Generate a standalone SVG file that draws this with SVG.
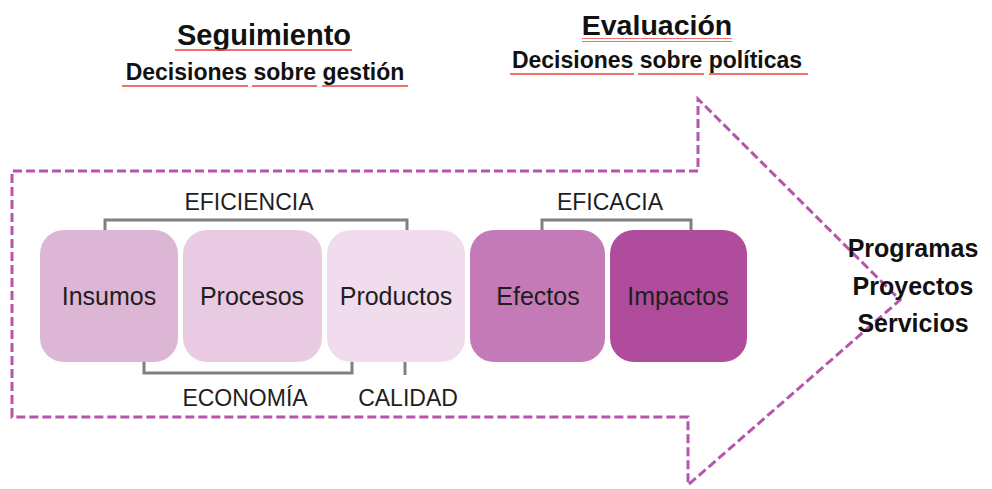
<svg xmlns="http://www.w3.org/2000/svg" width="992" height="489" viewBox="0 0 992 489">
<defs>
<style>
.t{font-family:"Liberation Sans",Arial,sans-serif;fill:#111;text-anchor:middle}
.b{font-weight:bold}
.lbl{font-size:25px;fill:#1e1e1e}
.cap{font-size:23px;fill:#1e1e1e}
.br{fill:none;stroke:#808080;stroke-width:3}
</style>
<pattern id="wave" width="4" height="4" patternUnits="userSpaceOnUse">
<path d="M0,3 L1,1 L2,3 L3,1 L4,3" fill="none" stroke="#ec4a46" stroke-width="1"/>
</pattern>
</defs>
<rect width="992" height="489" fill="#fff"/>

<g id="titles">
<text class="t b" x="264" y="45" font-size="29">Seguimiento</text>
<text class="t b" x="265" y="80" font-size="23">Decisiones sobre gestión</text>
<text class="t b" x="657" y="35" font-size="28.5">Evaluación</text>
<text class="t b" x="657" y="68" font-size="23">Decisiones sobre políticas</text>
<rect x="175" y="48" width="177" height="4" fill="url(#wave)"/>
<rect x="122" y="84" width="126" height="4" fill="url(#wave)"/>
<rect x="252" y="84" width="65" height="4" fill="url(#wave)"/>
<rect x="322" y="84" width="86" height="4" fill="url(#wave)"/>
<rect x="582" y="38" width="150" height="4" fill="url(#wave)"/>
<rect x="510" y="73" width="124" height="4" fill="url(#wave)"/>
<rect x="638" y="73" width="66" height="4" fill="url(#wave)"/>
<rect x="709" y="73" width="99" height="4" fill="url(#wave)"/>
</g>

<g id="arrow">
<path d="M12,417 L12,171 L698,171 L698,99 L900,300 L688,485 L688,417 Z" fill="none" stroke="#b755ae" stroke-width="3" stroke-dasharray="9,4"/>
</g>

<g id="connectors">
<path class="br" d="M105,230 V220 H407 V230"/>
<path class="br" d="M542,230 V220 H691 V230"/>
<path class="br" d="M144,362 V373 H352 V362"/>
<path class="br" d="M405,362 V375"/>
</g>

<g id="insumos">
<rect x="40" y="230" width="138" height="132" rx="24" fill="#ddb5d5"/>
<text class="t lbl" x="109" y="305">Insumos</text>
</g>
<g id="procesos">
<rect x="183" y="230" width="139" height="132" rx="24" fill="#e8cae2"/>
<text class="t lbl" x="252" y="305">Procesos</text>
</g>
<g id="productos">
<rect x="327" y="230" width="138" height="132" rx="24" fill="#f0dcec"/>
<text class="t lbl" x="396" y="305">Productos</text>
</g>
<g id="efectos">
<rect x="470" y="230" width="135" height="132" rx="24" fill="#c47ab7"/>
<text class="t lbl" x="538" y="305">Efectos</text>
</g>
<g id="impactos">
<rect x="610" y="230" width="137" height="132" rx="24" fill="#b04c9c"/>
<text class="t lbl" x="678" y="305">Impactos</text>
</g>

<g id="labels">
<text class="t cap" x="249" y="210">EFICIENCIA</text>
<text class="t cap" x="610" y="210">EFICACIA</text>
<text class="t cap" x="245" y="406">ECONOMÍA</text>
<text class="t cap" x="408" y="406">CALIDAD</text>
</g>

<g id="programas">
<text class="t b" x="913" y="257" font-size="25">Programas</text>
<text class="t b" x="913" y="295" font-size="25">Proyectos</text>
<text class="t b" x="913" y="332" font-size="25">Servicios</text>
</g>
</svg>
